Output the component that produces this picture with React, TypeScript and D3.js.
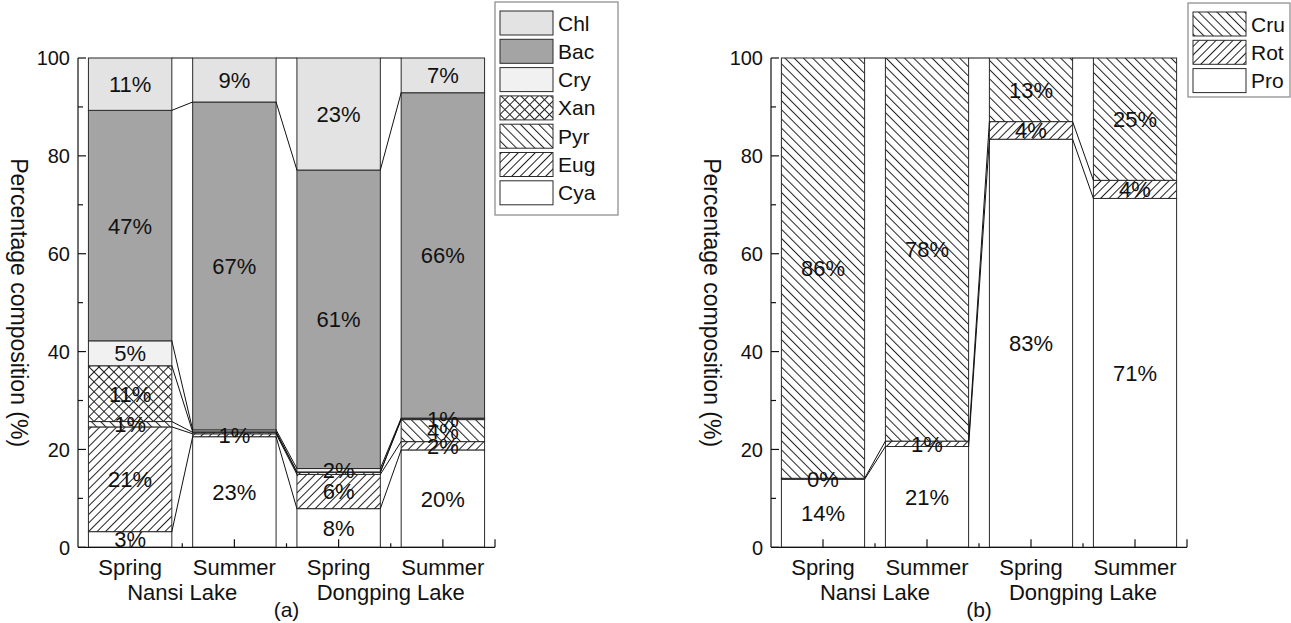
import React from "react";
import * as d3 from "d3";

// ---------- data ----------
const seasons = ["Spring", "Summer", "Spring", "Summer"];
const lakes = ["Nansi Lake", "Dongping Lake"];

// Panel (a): phytoplankton, stacked bottom -> top
const phytoNames = ["Cya", "Eug", "Pyr", "Xan", "Cry", "Bac", "Chl"];
const cya = [3.2, 22.6, 7.9, 19.9];
const eug = [21.4, 0.6, 7.0, 1.7];
const pyr = [1.1, 0.3, 0.4, 4.5];
const xan = [11.4, 0.1, 0.1, 0.1];
const cry = [5.1, 0.4, 0.7, 0.2];
const bac = [47.1, 67.0, 61.0, 66.5];
const chl = [10.7, 9.0, 22.9, 7.1];
const cyaLabels = ["3%", "23%", "8%", "20%"];
const eugLabels = ["21%", "1%", "6%", "2%"];
const pyrLabels = ["1%", "", "", "4%"];
const xanLabels = ["11%", "", "", ""];
const cryLabels = ["5%", "", "2%", "1%"];
const bacLabels = ["47%", "67%", "61%", "66%"];
const chlLabels = ["11%", "9%", "23%", "7%"];

// Panel (b): zooplankton, stacked bottom -> top
const zooNames = ["Pro", "Rot", "Cru"];
const pro = [13.9, 20.6, 83.4, 71.3];
const rot = [0.2, 1.1, 3.6, 3.7];
const cru = [85.9, 78.3, 13.0, 25.0];
const proLabels = ["14%", "21%", "83%", "71%"];
const rotLabels = ["0%", "1%", "4%", "4%"];
const cruLabels = ["86%", "78%", "13%", "25%"];

const yTicks = [0, 20, 40, 60, 80, 100];

// ---------- styles ----------
const FONT = "'Liberation Sans', Arial, sans-serif";
const fills: Record<string, string> = {
  Cya: "#ffffff",
  Eug: "url(#hatchFwd)",
  Pyr: "url(#hatchBack)",
  Xan: "url(#hatchCross)",
  Cry: "#f1f1f1",
  Bac: "#a4a4a4",
  Chl: "#e3e3e3",
  Pro: "#ffffff",
  Rot: "url(#hatchFwd)",
  Cru: "url(#hatchBack)",
};
const STROKE = "#2a2a2a";
const HATCH = "#222";

type Series = { name: string; values: number[]; labels: string[] };

const phytoSeries: Series[] = [
  { name: phytoNames[0], values: cya, labels: cyaLabels },
  { name: phytoNames[1], values: eug, labels: eugLabels },
  { name: phytoNames[2], values: pyr, labels: pyrLabels },
  { name: phytoNames[3], values: xan, labels: xanLabels },
  { name: phytoNames[4], values: cry, labels: cryLabels },
  { name: phytoNames[5], values: bac, labels: bacLabels },
  { name: phytoNames[6], values: chl, labels: chlLabels },
];
const zooSeries: Series[] = [
  { name: zooNames[0], values: pro, labels: proLabels },
  { name: zooNames[1], values: rot, labels: rotLabels },
  { name: zooNames[2], values: cru, labels: cruLabels },
];

const Y0 = 547.3;
const Y100 = 58;

function Panel({
  x0,
  x1,
  series,
  tag,
  titleX,
}: {
  x0: number;
  x1: number;
  series: Series[];
  tag: string;
  titleX: number;
}) {
  const n = seasons.length;
  const x = d3.scaleLinear().domain([0.5, n + 0.5]).range([x0, x1]);
  const y = d3.scaleLinear().domain([0, 100]).range([Y0, Y100]);
  const bw = (x(2) - x(1)) * 0.8;

  const stack = d3
    .stack<number>()
    .keys(series.map((_, i) => String(i)))
    .value((idx, key) => series[+key].values[idx]);
  const stacked = stack(d3.range(n));

  const minor = d3.range(10, 100, 20);
  const xMinor = d3.range(1.5, n, 1);

  return (
    <g>
      {/* bars */}
      {stacked.map((layer, si) =>
        layer.map((d, ci) => (
          <rect
            key={`b${si}-${ci}`}
            x={x(ci + 1) - bw / 2}
            y={y(d[1])}
            width={bw}
            height={Math.max(0, y(d[0]) - y(d[1]))}
            fill={fills[series[si].name]}
            stroke={STROKE}
            strokeWidth={1}
          />
        ))
      )}
      {/* connect lines */}
      {stacked.map((layer, si) =>
        d3.range(n - 1).map((ci) => (
          <line
            key={`c${si}-${ci}`}
            x1={x(ci + 1) + bw / 2}
            y1={y(layer[ci][1])}
            x2={x(ci + 2) - bw / 2}
            y2={y(layer[ci + 1][1])}
            stroke="#111"
            strokeWidth={1}
          />
        ))
      )}
      {/* value labels */}
      {stacked.map((layer, si) =>
        layer.map((d, ci) =>
          series[si].labels[ci] ? (
            <text
              key={`l${si}-${ci}`}
              x={x(ci + 1)}
              y={y((d[0] + d[1]) / 2)}
              dy="0.36em"
              textAnchor="middle"
              fontSize={22}
              fontFamily={FONT}
              fill="#111"
            >
              {series[si].labels[ci]}
            </text>
          ) : null
        )
      )}
      {/* y axis */}
      <line x1={x0} x2={x0} y1={Y0} y2={Y100} stroke="#111" strokeWidth={1.2} />
      {yTicks.map((t) => (
        <g key={`yt${t}`}>
          <line x1={x0} x2={x0 + 8} y1={y(t)} y2={y(t)} stroke="#111" strokeWidth={1.2} />
          <text
            x={x0 - 8}
            y={y(t)}
            dy="0.36em"
            textAnchor="end"
            fontSize={20}
            fontFamily={FONT}
            fill="#111"
          >
            {t}
          </text>
        </g>
      ))}
      {minor.map((t) => (
        <line key={`ym${t}`} x1={x0} x2={x0 + 5} y1={y(t)} y2={y(t)} stroke="#111" strokeWidth={1.2} />
      ))}
      {/* x axis */}
      <line x1={x0} x2={x1} y1={Y0} y2={Y0} stroke="#111" strokeWidth={1.2} />
      {seasons.map((s, i) => (
        <g key={`xt${i}`}>
          <line x1={x(i + 1)} x2={x(i + 1)} y1={Y0} y2={Y0 - 8} stroke="#111" strokeWidth={1.2} />
          <text
            x={x(i + 1)}
            y={575}
            textAnchor="middle"
            fontSize={22}
            fontFamily={FONT}
            fill="#111"
          >
            {s}
          </text>
        </g>
      ))}
      {xMinor.map((t) => (
        <line key={`xm${t}`} x1={x(t)} x2={x(t)} y1={Y0} y2={Y0 - 4} stroke="#111" strokeWidth={1.2} />
      ))}
      <line x1={x1} x2={x1} y1={Y0} y2={Y0 - 8} stroke="#111" strokeWidth={1.2} />
      {lakes.map((l, i) => (
        <text
          key={`lk${i}`}
          x={x(1.5 + i * 2)}
          y={600}
          textAnchor="middle"
          fontSize={22}
          fontFamily={FONT}
          fill="#111"
        >
          {l}
        </text>
      ))}
      <text
        x={(x0 + x1) / 2}
        y={617}
        textAnchor="middle"
        fontSize={21}
        fontFamily={FONT}
        fill="#111"
      >
        {tag}
      </text>
      <text
        transform={`translate(${titleX},${(Y0 + Y100) / 2}) rotate(90)`}
        textAnchor="middle"
        fontSize={23}
        fontFamily={FONT}
        fill="#111"
        dy="0.36em"
      >
        Percentage composition (%)
      </text>
    </g>
  );
}

function Legend({
  x,
  y,
  w,
  h,
  names,
}: {
  x: number;
  y: number;
  w: number;
  h: number;
  names: string[];
}) {
  const pitch = 28.3;
  return (
    <g>
      <rect x={x} y={y} width={w} height={h} fill="#fff" stroke="#888" strokeWidth={1.2} />
      {names.map((nm, i) => (
        <g key={nm}>
          <rect
            x={x + 5}
            y={y + 9 + i * pitch}
            width={53}
            height={24}
            fill={fills[nm]}
            stroke={STROKE}
            strokeWidth={1}
          />
          <text
            x={x + 63}
            y={y + 9 + i * pitch + 12}
            dy="0.36em"
            fontSize={21}
            fontFamily={FONT}
            fill="#111"
          >
            {nm}
          </text>
        </g>
      ))}
    </g>
  );
}

export default function App() {
  const phytoLegend = [...phytoNames].reverse();
  const zooLegend = [...zooNames].reverse();
  return (
    <svg
      width={1291}
      height={623}
      style={{ position: "absolute", left: 0, top: 0, background: "#fff" }}
    >
      <defs>
        <pattern id="hatchFwd" width={6} height={10} patternUnits="userSpaceOnUse" patternTransform="rotate(45)">
          <rect width={6} height={10} fill="#fff" />
          <line x1={0.5} y1={0} x2={0.5} y2={10} stroke={HATCH} strokeWidth={1} />
        </pattern>
        <pattern id="hatchBack" width={6.5} height={10} patternUnits="userSpaceOnUse" patternTransform="rotate(-45)">
          <rect width={6.5} height={10} fill="#fff" />
          <line x1={0.5} y1={0} x2={0.5} y2={10} stroke={HATCH} strokeWidth={1} />
        </pattern>
        <pattern id="hatchCross" width={7} height={7} patternUnits="userSpaceOnUse" patternTransform="rotate(45)">
          <rect width={7} height={7} fill="#fff" />
          <line x1={0.5} y1={0} x2={0.5} y2={7} stroke={HATCH} strokeWidth={1} />
          <line x1={0} y1={0.5} x2={7} y2={0.5} stroke={HATCH} strokeWidth={1} />
        </pattern>
      </defs>
      <Panel x0={78} x1={495} series={phytoSeries} tag="(a)" titleX={19} />
      <Panel x0={771} x1={1187} series={zooSeries} tag="(b)" titleX={712} />
      <Legend x={495} y={2} w={123} h={213} names={phytoLegend} />
      <Legend x={1188} y={3} w={102} h={94} names={zooLegend} />
    </svg>
  );
}
